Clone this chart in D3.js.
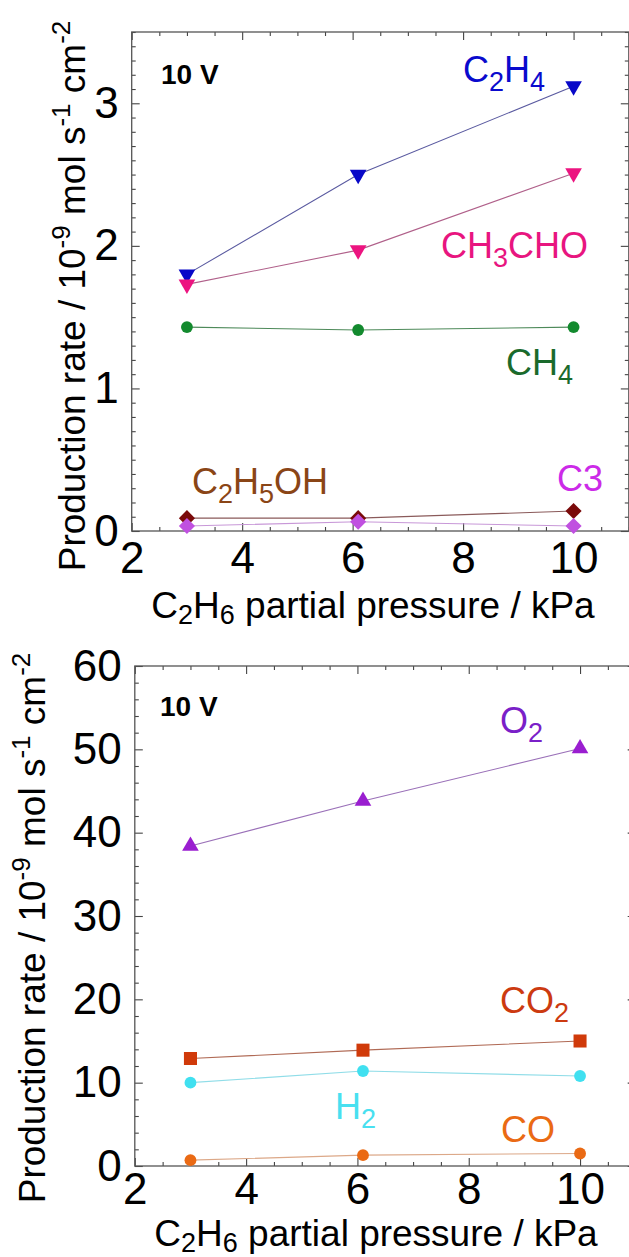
<!DOCTYPE html>
<html><head><meta charset="utf-8">
<script src="https://cdn.jsdelivr.net/npm/d3@7"></script>
<style>
body{margin:0;background:#fff}
svg{display:block}
text{font-family:"Liberation Sans",Arial,sans-serif}
</style>
</head><body>
<svg id="c" width="629" height="1257"></svg>
<script>
// ---------- data ----------
const pressure = [3, 6.1, 10];               // C2H6 partial pressure / kPa
const xTickValues = [2, 4, 6, 8, 10];
// top panel (10^-9 mol s^-1 cm^-2)
const c2h4   = [1.80, 2.50, 3.12];
const ch3cho = [1.73, 1.97, 2.51];
const ch4    = [1.43, 1.41, 1.43];
const c2h5oh = [0.09, 0.09, 0.14];
const c3     = [0.035, 0.065, 0.035];
const topYTicks = [0, 1, 2, 3];
// bottom panel
const o2  = [38.4, 43.8, 50.1];
const co2 = [12.9, 13.9, 15.0];
const h2  = [10.0, 11.4, 10.8];
const co  = [0.7, 1.3, 1.5];
const botYTicks = [0, 10, 20, 30, 40, 50, 60];

const svg = d3.select("#c");

const downTri = {draw(ctx, size){ const s=Math.sqrt(size/(Math.sqrt(3)/4)); const h=s*Math.sqrt(3)/2; ctx.moveTo(-s/2,-h/3); ctx.lineTo(s/2,-h/3); ctx.lineTo(0,2*h/3); ctx.closePath(); }};
const upTri = {draw(ctx, size){ const s=Math.sqrt(size/(Math.sqrt(3)/4)); const h=s*Math.sqrt(3)/2; ctx.moveTo(-s/2,h/3); ctx.lineTo(s/2,h/3); ctx.lineTo(0,-2*h/3); ctx.closePath(); }};
const diamond = {draw(ctx, size){ const r=Math.sqrt(size/2); ctx.moveTo(0,-r); ctx.lineTo(r,0); ctx.lineTo(0,r); ctx.lineTo(-r,0); ctx.closePath(); }};

function panel(cfg) {
  const g = svg.append("g");
  const x = d3.scaleLinear().domain([2, 11]).range([cfg.left, cfg.right]);
  const y = d3.scaleLinear().domain(cfg.yDomain).range([cfg.bottom, cfg.top]);
  const tickCol = "#444";
  const xMinor = d3.range(2, 11.01, 0.5).filter(v => !xTickValues.includes(v));
  const yMinor = d3.range(cfg.yDomain[0], cfg.yDomain[1] + 1e-9, cfg.yMinorStep)
     .map(v => +v.toFixed(4)).filter(v => !cfg.yTicks.some(t => Math.abs(t - v) < 1e-6));
  const addAxis = (axis, transform) => {
    const a = g.append("g").attr("transform", transform).call(axis);
    a.select(".domain").remove();
    a.selectAll("line").attr("stroke", tickCol).attr("stroke-width", 1.1);
    a.selectAll("text").attr("font-size", 44).attr("fill", "#000")
      .style("font-family", '"Liberation Sans",Arial,sans-serif');
    return a;
  };
  addAxis(d3.axisBottom(x).tickValues(xTickValues).tickSize(-8).tickPadding(cfg.xPad).tickFormat(d3.format("d")), `translate(0,${cfg.bottom})`);
  addAxis(d3.axisBottom(x).tickValues(xMinor).tickSize(-4).tickFormat(""), `translate(0,${cfg.bottom})`);
  addAxis(d3.axisTop(x).tickValues(xTickValues).tickSize(-8).tickFormat(""), `translate(0,${cfg.top})`);
  addAxis(d3.axisTop(x).tickValues(xMinor).tickSize(-4).tickFormat(""), `translate(0,${cfg.top})`);
  addAxis(d3.axisLeft(y).tickValues(cfg.yTicks).tickSize(-8).tickPadding(13).tickFormat(d3.format("d")), `translate(${cfg.left},0)`);
  addAxis(d3.axisLeft(y).tickValues(yMinor).tickSize(-4).tickFormat(""), `translate(${cfg.left},0)`);
  addAxis(d3.axisRight(y).tickValues(cfg.yTicks).tickSize(-8).tickFormat(""), `translate(${cfg.right},0)`);
  addAxis(d3.axisRight(y).tickValues(yMinor).tickSize(-4).tickFormat(""), `translate(${cfg.right},0)`);
  g.append("rect").attr("x", cfg.left).attr("y", cfg.top)
    .attr("width", cfg.right - cfg.left).attr("height", cfg.bottom - cfg.top)
    .attr("fill", "none").attr("stroke", "#555").attr("stroke-width", 1.3);

  const line = d3.line().x(d => x(d[0])).y(d => y(d[1]));
  cfg.series.forEach(s => {
    const pts = pressure.map((p, i) => [p, s.values[i]]);
    g.append("path").datum(pts).attr("d", line).attr("fill", "none")
      .attr("stroke", s.line).attr("stroke-width", 1.1);
    g.selectAll(null).data(pts).join("path")
      .attr("transform", d => `translate(${x(d[0])},${y(d[1])})`)
      .attr("d", d3.symbol().type(s.symbol).size(s.size)())
      .attr("fill", s.color);
  });

  cfg.labels.forEach(l => {
    const t = g.append("text").attr("x", l.x).attr("y", l.y).attr("fill", l.color)
      .attr("font-size", 36);
    let prevSub = false;
    l.parts.forEach(([txt, sub]) => {
      const ts = t.append("tspan").text(txt);
      if (sub) ts.attr("font-size", 27).attr("dy", prevSub ? 0 : 9);
      else ts.attr("dy", prevSub ? -9 : 0);
      prevSub = !!sub;
    });
  });
  g.append("text").attr("x", cfg.vx).attr("y", cfg.vy).attr("font-size", 28)
    .attr("font-weight", "bold").attr("fill", "#000").text("10 V");

  const xt = g.append("text").attr("x", cfg.xTitleX).attr("y", cfg.xTitleY)
    .attr("text-anchor", "middle").attr("font-size", 37).attr("fill", "#000");
  xt.append("tspan").text("C");
  xt.append("tspan").text("2").attr("font-size", 27).attr("dy", 6);
  xt.append("tspan").text("H").attr("dy", -6);
  xt.append("tspan").text("6").attr("font-size", 27).attr("dy", 6);
  xt.append("tspan").text(" partial pressure / kPa").attr("dy", -6);

  const yt = g.append("text")
    .attr("transform", `translate(${cfg.yTitleX},${cfg.yTitleY}) rotate(-90)`)
    .attr("text-anchor", "middle").attr("font-size", 37).attr("fill", "#000");
  yt.append("tspan").text("Production rate / 10");
  yt.append("tspan").text("-9").attr("font-size", 26).attr("dy", -15);
  yt.append("tspan").text(" mol s").attr("dy", 15);
  yt.append("tspan").text("-1").attr("font-size", 26).attr("dy", -15);
  yt.append("tspan").text(" cm").attr("dy", 15);
  yt.append("tspan").text("-2").attr("font-size", 26).attr("dy", -15);
}

panel({
  left: 131.7, right: 628.8, top: 32, bottom: 531,
  yDomain: [0, 3.5], yTicks: topYTicks, yMinorStep: 0.1, xPad: 11,
  vx: 161, vy: 84,
  xTitleX: 373, xTitleY: 618, yTitleX: 85, yTitleY: 296,
  series: [
    {values: c2h4, color: "#0808C8", line: "#5a5aa0", symbol: downTri, size: 120},
    {values: ch3cho, color: "#EC1480", line: "#b0608a", symbol: downTri, size: 120},
    {values: ch4, color: "#138a2e", line: "#4e8a5a", symbol: d3.symbolCircle, size: 110},
    {values: c2h5oh, color: "#7a0a0a", line: "#8a5a5a", symbol: diamond, size: 130},
    {values: c3, color: "#c050e0", line: "#c898d8", symbol: diamond, size: 130}
  ],
  labels: [
    {x: 463, y: 82, color: "#0a0acd", parts: [["C",0],["2",1],["H",0],["4",1]]},
    {x: 441, y: 258, color: "#E8157F", parts: [["CH",0],["3",1],["CHO",0]]},
    {x: 506, y: 375, color: "#1a6a2c", parts: [["CH",0],["4",1]]},
    {x: 192, y: 494, color: "#8a4516", parts: [["C",0],["2",1],["H",0],["5",1],["OH",0]]},
    {x: 557, y: 491, color: "#cc2ae8", parts: [["C3",0]]}
  ]
});

panel({
  left: 134.8, right: 635.7, top: 666, bottom: 1166,
  yDomain: [0, 60], yTicks: botYTicks, yMinorStep: 2, xPad: 7,
  vx: 160, vy: 716,
  xTitleX: 376, xTitleY: 1246, yTitleX: 45, yTitleY: 928,
  series: [
    {values: o2, color: "#9a1ed0", line: "#9a70b8", symbol: upTri, size: 120},
    {values: co2, color: "#d03a0a", line: "#b06a55", symbol: d3.symbolSquare, size: 170},
    {values: h2, color: "#40e0f0", line: "#90dde8", symbol: d3.symbolCircle, size: 110},
    {values: co, color: "#ea6a14", line: "#dca888", symbol: d3.symbolCircle, size: 110}
  ],
  labels: [
    {x: 500, y: 733, color: "#7a20c8", parts: [["O",0],["2",1]]},
    {x: 500, y: 1013, color: "#cc3a10", parts: [["CO",0],["2",1]]},
    {x: 335, y: 1119, color: "#48e0f0", parts: [["H",0],["2",1]]},
    {x: 501, y: 1142, color: "#ea6a14", parts: [["CO",0]]}
  ]
});
</script>
</body></html>
